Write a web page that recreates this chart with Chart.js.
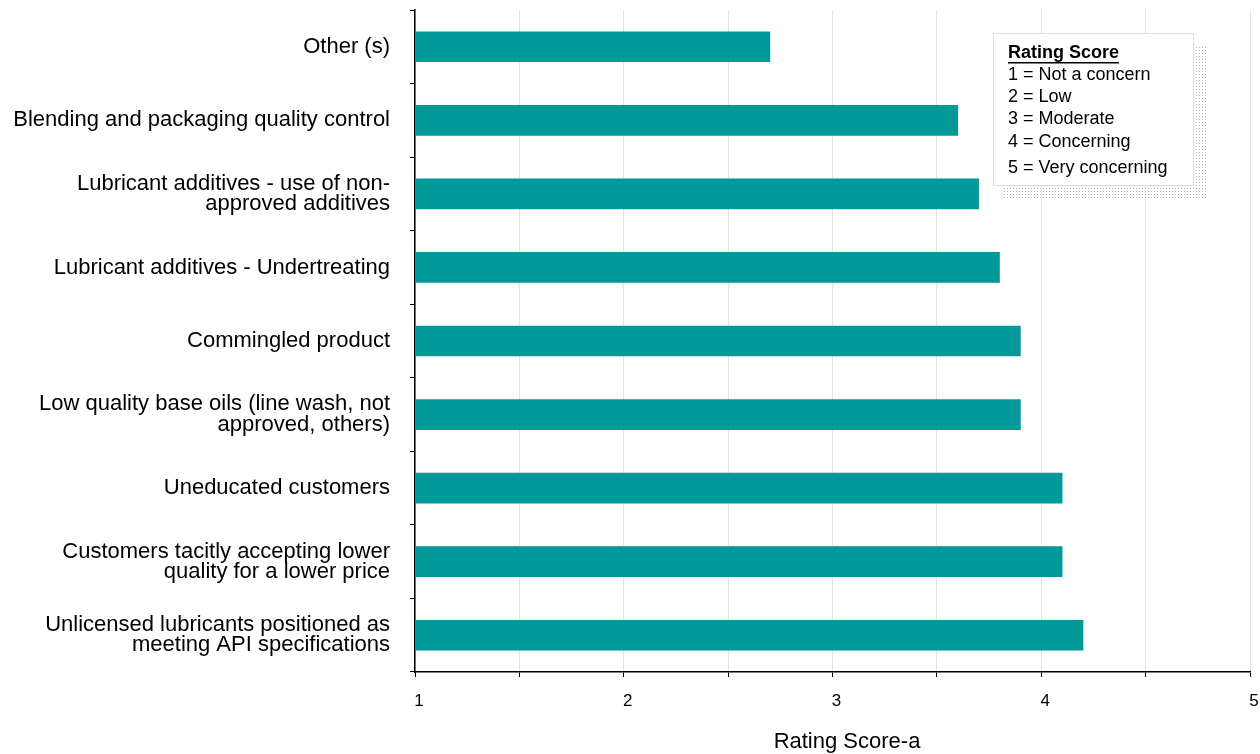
<!DOCTYPE html>
<html>
<head>
<meta charset="utf-8">
<script src="https://cdn.jsdelivr.net/npm/chart.js@4"></script>
<style>
    body { margin: 0; background: #fff; }
    #wrap { width: 1260px; height: 754px; position: relative; }
</style>
</head>
<body>
<div id="wrap"><canvas id="ratingChart"></canvas></div>
<script>
// Concern categories, top to bottom
const categories = [
    'Other (s)',
    'Blending and packaging quality control',
    ['Lubricant additives - use of non-', 'approved additives'],
    'Lubricant additives - Undertreating',
    'Commingled product',
    ['Low quality base oils (line wash, not', 'approved, others)'],
    'Uneducated customers',
    ['Customers tacitly accepting lower', 'quality for a lower price'],
    ['Unlicensed lubricants positioned as', 'meeting API specifications']
];
const ratings = [2.7, 3.6, 3.7, 3.8, 3.9, 3.9, 4.1, 4.1, 4.2];

const scaleTitle = 'Rating Score-a';
const keyTitle = 'Rating Score';
const keyLines = ['1 = Not a concern', '2 = Low', '3 = Moderate', '4 = Concerning', '5 = Very concerning'];

const FONT = 'Arial, "Liberation Sans", sans-serif';

// Rating key box with dotted shadow, plus the x axis title
const keyPlugin = {
    id: 'ratingKey',
    afterDraw(chart) {
        const ctx = chart.ctx;
        ctx.save();

        // dotted shadow
        ctx.fillStyle = '#b5b5b5';
        for (let x = 1004; x < 1206; x += 3) {
            for (let y = 47; y < 198; y += 3) {
                if (x < 1193 && y < 185) continue;
                ctx.fillRect(x, y, 1, 1);
            }
        }

        ctx.fillStyle = '#fff';
        ctx.fillRect(993, 33, 200, 152);
        ctx.strokeStyle = '#dcdcdc';
        ctx.lineWidth = 1;
        ctx.strokeRect(993.5, 33.5, 200, 152);

        ctx.fillStyle = '#000';
        ctx.textBaseline = 'middle';
        ctx.textAlign = 'left';
        ctx.font = 'bold 18px ' + FONT;
        ctx.fillText(keyTitle, 1008, 53);
        const w = ctx.measureText(keyTitle).width;
        ctx.fillRect(1008, 62, w, 1.5);

        ctx.font = '18px ' + FONT;
        const ys = [75, 97, 119, 142, 168];
        keyLines.forEach((t, i) => ctx.fillText(t, 1008, ys[i]));

        // axis title
        ctx.font = '22px ' + FONT;
        ctx.textAlign = 'center';
        ctx.fillText(scaleTitle, 847, 742);
        ctx.restore();
    }
};

new Chart(document.getElementById('ratingChart'), {
    type: 'bar',
    data: {
        labels: categories,
        datasets: [{
            data: ratings,
            backgroundColor: '#009999',
            borderWidth: 0,
            barThickness: 30,
            base: 1
        }]
    },
    options: {
        indexAxis: 'y',
        responsive: true,
        maintainAspectRatio: false,
        animation: false,
        layout: { padding: { top: 10, right: 10, left: 0, bottom: 0 } },
        plugins: {
            legend: { display: false },
            tooltip: { enabled: false }
        },
        scales: {
            x: {
                type: 'linear',
                min: 1,
                max: 5,
                afterFit: scale => {
                    scale.height = 82;
                    scale.paddingLeft = 0;
                    scale.paddingRight = 0;
                },
                ticks: {
                    stepSize: 0.5,
                    color: '#000',
                    font: { family: FONT, size: 17 },
                    padding: 14,
                    labelOffset: 4,
                    maxRotation: 0,
                    autoSkip: false,
                    callback: v => Number.isInteger(v) ? v : ''
                },
                grid: {
                    color: '#e2e2e2',
                    tickColor: '#000',
                    tickLength: 5,
                    lineWidth: 1
                },
                border: { color: '#000', width: 1.5 }
            },
            y: {
                afterFit: scale => {
                    scale.width = 415;
                    scale.paddingTop = 0;
                    scale.paddingBottom = 0;
                },
                ticks: {
                    color: '#000',
                    font: { family: FONT, size: 22, lineHeight: 0.92 },
                    padding: 20
                },
                grid: {
                    drawOnChartArea: false,
                    tickColor: '#000',
                    tickLength: 5
                },
                border: { color: '#000', width: 1.5 }
            }
        }
    },
    plugins: [keyPlugin]
});
</script>
</body>
</html>
